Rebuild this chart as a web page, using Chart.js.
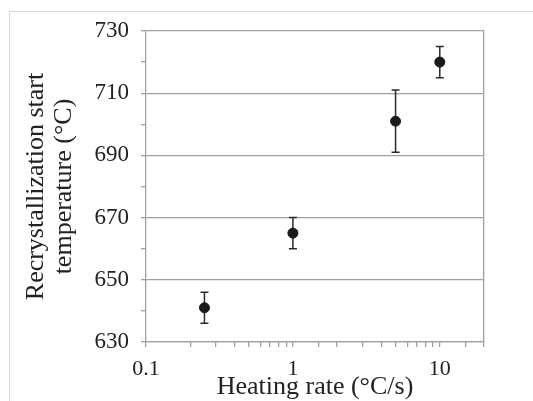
<!DOCTYPE html>
<html>
<head>
<meta charset="utf-8">
<script src="https://cdn.jsdelivr.net/npm/chart.js@4.4.1/dist/chart.umd.min.js"></script>
<style>
  html, body { margin: 0; padding: 0; background: #fff; overflow: hidden; }
  #frame { position: absolute; left: 9px; top: 11px; width: 540px; height: 400px;
           border-top: 1px solid #d9d9d9; border-left: 1px solid #d9d9d9; }
  #chart { position: absolute; left: 0; top: 0; }
</style>
</head>
<body>
<div id="frame"></div>
<canvas id="chart" width="533" height="401"></canvas>
<script>
// heating rate (°C/s), recrystallization start temperature (°C), error (±°C)
const heatingRates = [0.25, 1, 5, 10];
const startTemps = [641, 665, 701, 720];
const tempErrors = [5, 5, 10, 5];
const xTickLabels = [0.1, 1, 10];

const axisColor = "#a0a0a0";
const textColor = "#222";
const serif = "'Liberation Serif', 'Times New Roman', serif";

const errorBars = {
  id: "errorBars",
  beforeDatasetsDraw(chart) {
    const ctx = chart.ctx;
    const x = chart.scales.x;
    const y = chart.scales.y;
    ctx.save();
    ctx.strokeStyle = "#2a2a2a";
    ctx.lineWidth = 1.5;
    heatingRates.forEach((rate, i) => {
      const px = x.getPixelForValue(rate);
      const top = y.getPixelForValue(startTemps[i] + tempErrors[i]);
      const bot = y.getPixelForValue(startTemps[i] - tempErrors[i]);
      ctx.beginPath();
      ctx.moveTo(px, top);
      ctx.lineTo(px, bot);
      ctx.moveTo(px - 4, top);
      ctx.lineTo(px + 4, top);
      ctx.moveTo(px - 4, bot);
      ctx.lineTo(px + 4, bot);
      ctx.stroke();
    });
    ctx.restore();
  }
};

new Chart(document.getElementById("chart"), {
  type: "scatter",
  data: {
    datasets: [{
      data: heatingRates.map((r, i) => ({ x: r, y: startTemps[i] })),
      backgroundColor: "#1a1a1a",
      borderColor: "#1a1a1a",
      pointRadius: 5,
      pointHoverRadius: 5
    }]
  },
  options: {
    responsive: false,
    animation: false,
    layout: { padding: { left: 22, right: 49, top: 31, bottom: 0 } },
    plugins: { legend: { display: false }, tooltip: { enabled: false } },
    scales: {
      x: {
        type: "logarithmic",
        min: 0.1,
        max: 20,
        afterFit: (scale) => { scale.height = 59; },
        border: { color: axisColor, width: 1.3 },
        grid: {
          drawOnChartArea: true,
          color: (c) => (c.tick && c.tick.value === 20 ? axisColor : "rgba(0,0,0,0)"),
          tickColor: axisColor,
          lineWidth: 1.3,
          tickLength: 5
        },
        ticks: {
          autoSkip: false,
          maxRotation: 0,
          padding: 9,
          color: textColor,
          font: { family: serif, size: 22 },
          callback: (v) => (xTickLabels.includes(Number(v)) ? String(v) : "")
        },
        title: {
          display: true,
          text: "Heating rate (°C/s)",
          color: textColor,
          font: { family: serif, size: 26, lineHeight: 1.1 },
          padding: 0
        }
      },
      y: {
        min: 630,
        max: 730,
        afterFit: (scale) => { scale.width = 146 - 22; },
        border: { color: axisColor, width: 1.3 },
        grid: {
          color: (c) => (c.tick && (c.tick.value - 630) % 20 === 0 ? axisColor : "rgba(0,0,0,0)"),
          tickColor: axisColor,
          lineWidth: 1.3,
          tickLength: 5
        },
        ticks: {
          stepSize: 10,
          padding: 12,
          color: textColor,
          font: { family: serif, size: 23 },
          callback: (v) => ((v - 630) % 20 === 0 ? String(v) : "")
        },
        title: {
          display: true,
          text: ["Recrystallization start", "temperature (°C)"],
          color: textColor,
          font: { family: serif, size: 26, lineHeight: 1.08 },
          padding: 0
        }
      }
    }
  },
  plugins: [errorBars]
});
</script>
</body>
</html>
